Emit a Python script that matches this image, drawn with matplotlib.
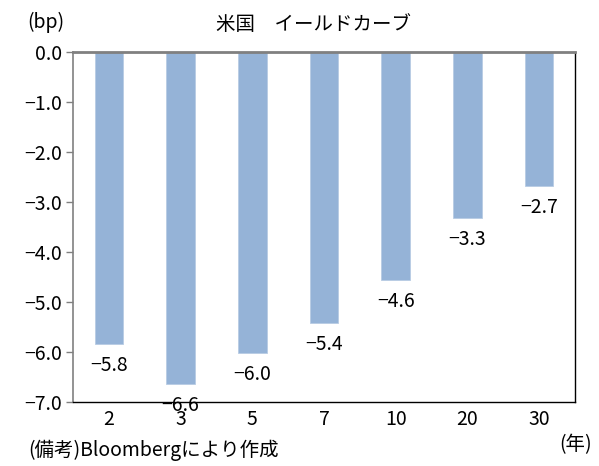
import matplotlib
matplotlib.use("Agg")
import matplotlib.pyplot as plt
import numpy as np

plt.rcParams['font.family'] = ['Noto Sans CJK JP', 'DejaVu Sans']

categories = ["2", "3", "5", "7", "10", "20", "30"]
values = [-5.84, -6.64, -6.02, -5.42, -4.56, -3.32, -2.68]
labels = ["−5.8", "−6.6", "−6.0", "−5.4", "−4.6", "−3.3", "−2.7"]
yticks = [0.0, -1.0, -2.0, -3.0, -4.0, -5.0, -6.0, -7.0]
title = "米国　イールドカーブ"
ylabel = "(bp)"
xunit = "(年)"
note = "(備考)Bloombergにより作成"

fig = plt.figure(figsize=(5.99, 4.66), dpi=100)
ax = fig.add_axes([73/599, 1-402/466, (575-73)/599, (402-52)/466])

x = np.arange(len(categories))
ax.bar(x, values, width=0.4, color="#95B3D7", edgecolor="#B8CCE4", linewidth=0.6, zorder=2)

for xi, v, lab in zip(x, values, labels):
    ax.annotate(lab, (xi, v), xytext=(0, -8), textcoords="offset points",
                ha="center", va="top", fontsize=14)

ax.set_xlim(-0.5, len(categories) - 0.5)
ax.set_ylim(-7.0, 0.0)
ax.set_yticks(yticks)
ax.set_yticklabels([f"{t:.1f}".replace("-", "−") for t in yticks], fontsize=14)
ax.set_xticks(x)
ax.set_xticklabels(categories, fontsize=14)
ax.tick_params(axis="x", length=0, pad=5)
ax.tick_params(axis="y", length=5, width=1, color="#808080", pad=3, direction="out")

ax.spines["left"].set_color("#808080")
ax.spines["left"].set_linewidth(1.2)
ax.spines["top"].set_color("#808080")
ax.spines["top"].set_linewidth(2.0)
ax.spines["right"].set_color("black")
ax.spines["right"].set_linewidth(1.0)
ax.spines["bottom"].set_color("black")
ax.spines["bottom"].set_linewidth(1.0)

fig.text(314/599, 1-25/466, title, ha="center", va="center", fontsize=14)
fig.text(46/599, 1-22/466, ylabel, ha="center", va="center", fontsize=14)
fig.text(576/599, 1-445/466, xunit, ha="center", va="center", fontsize=14)
fig.text(28/599, 1-450/466, note, ha="left", va="center", fontsize=14)

fig.savefig("out.png", dpi=100)
